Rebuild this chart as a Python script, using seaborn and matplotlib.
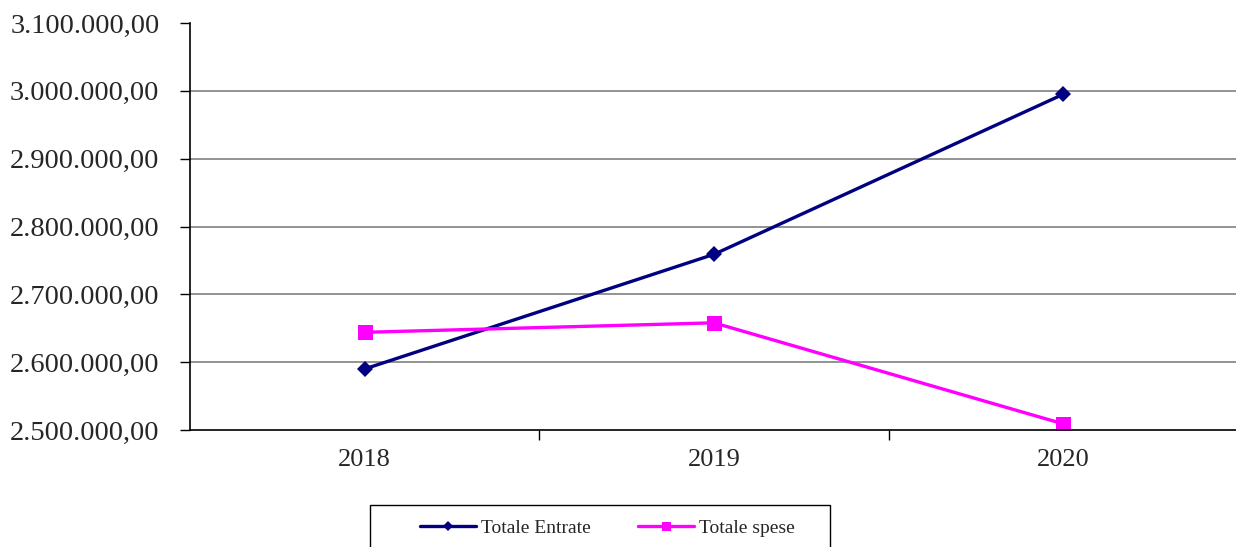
import pandas as pd
import matplotlib
matplotlib.use('Agg')
import matplotlib.pyplot as plt
import seaborn as sns
from matplotlib.patches import Rectangle
from matplotlib.ticker import FixedLocator, FuncFormatter

anni = [2018, 2019, 2020]
totale_entrate = [2590000, 2759000, 2995000]
totale_spese = [2644000, 2658000, 2509000]
y_ticks = [2500000, 2600000, 2700000, 2800000, 2900000, 3000000, 3100000]

dati = pd.DataFrame({
    'Anno': anni * 2,
    'Valore': totale_entrate + totale_spese,
    'Serie': ['Totale Entrate'] * 3 + ['Totale spese'] * 3,
})

sns.set_style('white')
plt.rcParams['font.family'] = ['Liberation Serif', 'DejaVu Serif']

fig = plt.figure(figsize=(12.36, 5.47), dpi=100)
ax = fig.add_axes([190 / 1236, 1 - 430 / 547, 1048 / 1236, (430 - 23) / 547])

colori = {'Totale Entrate': '#000080', 'Totale spese': '#FF00FF'}
marcatori = {'Totale Entrate': 'D', 'Totale spese': 's'}
for serie, gruppo in dati.groupby('Serie'):
    sns.lineplot(data=gruppo, x='Anno', y='Valore', color=colori[serie],
                 marker=marcatori[serie], markersize=8.5 if serie == 'Totale Entrate' else 10.8,
                 markeredgewidth=0, linewidth=2.4, label=serie, ax=ax, legend=False)

ax.set_xlim(2017.5, 2020.5)
ax.set_ylim(y_ticks[0], y_ticks[-1])
ax.set_xlabel('')
ax.set_ylabel('')

# gridlines (no line at the top value)
for v in y_ticks[1:-1]:
    ax.axhline(v, color='#808080', linewidth=1.2, zorder=0)

ax.yaxis.set_major_locator(FixedLocator(y_ticks))
ax.yaxis.set_major_formatter(FuncFormatter(
    lambda v, p: f"{v:,.2f}".replace(',', 'X').replace('.', ',').replace('X', '.')))
ax.xaxis.set_major_locator(FixedLocator(anni))
ax.xaxis.set_major_formatter(FuncFormatter(lambda v, p: f"{int(v)}"))
ax.xaxis.set_minor_locator(FixedLocator([2018.5, 2019.5]))

ax.tick_params(axis='y', which='major', direction='out', length=7, width=1,
               color='black', labelsize=20.5, pad=15, left=True)
ax.tick_params(axis='x', which='major', length=0, labelsize=19, pad=14)
ax.tick_params(axis='x', which='minor', direction='out', length=7, width=1,
               color='black', bottom=True)

for lato in ['top', 'right']:
    ax.spines[lato].set_visible(False)
for lato in ['left', 'bottom']:
    ax.spines[lato].set_color('black')
    ax.spines[lato].set_linewidth(1.2)

# legend box (extends past the bottom edge, as in the original)
fig.patches.append(Rectangle((370 / 1236, -0.05), 460 / 1236, 0.05 + 42 / 547,
                             transform=fig.transFigure, fill=False,
                             edgecolor='black', linewidth=1.0))

handles, labels = ax.get_legend_handles_labels()
fig.legend(handles, labels, loc='center left',
           bbox_to_anchor=(420 / 1236, 1 - 528 / 547), ncol=2,
           fontsize=14, frameon=False, handlelength=2.9, handletextpad=0.25,
           columnspacing=2.4, borderpad=0, borderaxespad=0, markerscale=0.6)

fig.savefig('out.png', dpi=100)
